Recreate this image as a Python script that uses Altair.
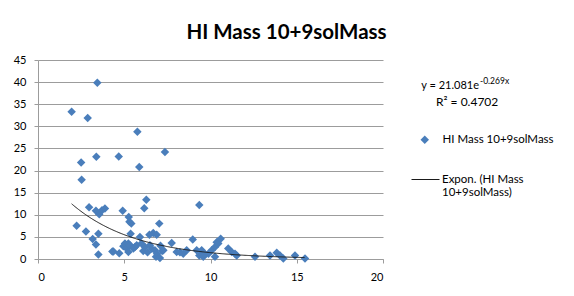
import altair as alt
import pandas as pd

# ---- data ----
x_vals = [1.95, 2.24, 2.5, 2.53, 2.78, 2.88, 2.96, 3.17, 3.36, 3.38,
          3.36, 3.44, 3.5, 3.5, 3.55, 3.71, 3.88, 4.31, 4.68, 4.71,
          4.91, 4.95, 5.04, 5.14, 5.24, 5.26, 5.3, 5.33, 5.37, 5.41,
          5.53, 5.62, 5.72, 5.76, 5.87, 5.91, 6.0, 6.1, 6.16, 6.2,
          6.28, 6.35, 6.46, 6.49, 6.6, 6.68, 6.78, 6.84, 6.88, 6.9,
          7.03, 7.07, 7.1, 7.2, 7.27, 7.36, 7.75, 8.04, 8.23, 8.42,
          8.62, 8.97, 9.2, 9.35, 9.35, 9.49, 9.58, 9.7, 9.88, 10.07,
          10.26, 10.26, 10.36, 10.45, 10.59, 11.03, 11.23, 11.42, 11.52, 12.58,
          13.45, 13.84, 14.03, 14.22, 14.9, 15.48, 5.24, 4.37]
y_vals = [33.3, 7.5, 21.8, 17.9, 6.2, 31.9, 11.7, 4.5, 3.3, 23.1,
          10.9, 39.85, 5.7, 1.0, 10.1, 11.0, 11.4, 1.7, 23.2, 1.3,
          10.9, 2.9, 3.5, 2.4, 3.5, 9.5, 8.4, 3.1, 5.7, 8.0,
          2.4, 2.7, 3.1, 28.75, 20.8, 5.0, 3.5, 1.8, 11.5, 2.7,
          13.4, 1.5, 5.5, 3.1, 2.3, 5.9, 2.0, 0.5, 5.5, 1.2,
          8.0, 0.2, 3.0, 1.8, 2.0, 24.2, 3.6, 1.6, 1.5, 1.2,
          2.0, 4.4, 2.0, 12.2, 0.8, 2.0, 0.5, 1.1, 1.2, 2.0,
          2.7, 0.5, 3.8, 3.5, 4.6, 2.4, 1.6, 1.2, 0.8, 0.5,
          0.8, 1.4, 0.8, 0.1, 0.8, 0.1, 1.6, 1.7]
series_name = "HI Mass 10+9solMass"
trend_name = "Expon. (HI Mass 10+9solMass)"
fit_a = 21.081
fit_b = -0.269
fit_r2 = 0.4702
x_ticks = [0, 5, 10, 15, 20]
y_ticks = [0, 5, 10, 15, 20, 25, 30, 35, 40, 45]

FONT = "Lato"
BLUE = "#4a7ebb"
GRID = "#9c9c9c"

pts = pd.DataFrame({"x": x_vals, "y": y_vals, "series": series_name})

x_enc = alt.X("x:Q", scale=alt.Scale(domain=[0, 20], nice=False),
              axis=alt.Axis(values=x_ticks, grid=False, title=None))
y_enc = alt.Y("y:Q", scale=alt.Scale(domain=[0, 45], nice=False),
              axis=alt.Axis(values=y_ticks, grid=True, title=None))

points = alt.Chart(pts).mark_point(
    shape="diamond", filled=True, size=72, opacity=1, strokeWidth=0
).encode(
    x=x_enc, y=y_enc,
    color=alt.Color("series:N", scale=alt.Scale(domain=[series_name], range=[BLUE]),
                    legend=alt.Legend(title=None, orient="none", legendX=381, legendY=74,
                                      symbolType="diamond", symbolSize=72,
                                      symbolStrokeWidth=0, labelOffset=12,
                                      labelFont=FONT, labelFontSize=11.5,
                                      labelColor="#000", padding=0))
)

trend = alt.Chart(alt.sequence(min(x_vals), max(x_vals) + 0.001, 0.05, as_="x")).transform_calculate(
    y=f"{fit_a} * exp({fit_b} * datum.x)",
    series=f"'{trend_name}'"
).mark_line(strokeWidth=1).encode(
    x=x_enc, y=y_enc,
    stroke=alt.Stroke("series:N", scale=alt.Scale(domain=[trend_name], range=["#1a1a1a"]),
                      legend=alt.Legend(title=None, orient="none", legendX=373, legendY=105,
                                        symbolType="stroke", symbolSize=784,
                                        symbolStrokeWidth=1, labelOffset=2,
                                        labelFont=FONT, labelFontSize=11.5, labelColor="#000",
                                        labelLimit=300, padding=0,
                                        labelExpr="[slice(datum.label,0,15), slice(datum.label,16)]"))
)

txt = pd.DataFrame({"main": [f"y = {fit_a}e"], "sup": [f"{fit_b}x"], "r2": [f"R\u00b2 = {fit_r2}"]})
eq_main = alt.Chart(txt).mark_text(align="right", baseline="alphabetic", font=FONT,
                                   fontSize=11, color="#000").encode(
    x=alt.value(441), y=alt.value(29), text="main:N")
eq_sup = alt.Chart(txt).mark_text(align="left", baseline="alphabetic", font=FONT,
                                  fontSize=8.5, color="#000").encode(
    x=alt.value(442), y=alt.value(24), text="sup:N")
eq_r2 = alt.Chart(txt).mark_text(align="left", baseline="alphabetic", font=FONT,
                                 fontSize=12, color="#000").encode(
    x=alt.value(398), y=alt.value(46), text="r2:N")

chart = alt.layer(points, trend, eq_main, eq_sup, eq_r2).properties(
    width=345, height=199,
    autosize=alt.AutoSizeParams(type="none"),
    padding={"left": 30, "top": 52, "right": 183, "bottom": 28},
    title=alt.Title(series_name, font=FONT, fontSize=20.5, fontWeight="bold",
                    color="#000", anchor="middle", dx=76, dy=7, offset=2, baseline="alphabetic"),
    background="white",
).resolve_legend(color="independent", stroke="independent").configure_view(
    stroke=None
).configure_axis(
    labelFont=FONT, labelFontSize=11, labelColor="#000",
    domainColor=GRID, tickColor=GRID, gridColor=GRID,
    tickSize=4, labelPadding=8, domainWidth=1, tickWidth=1, gridWidth=1
)

chart.save("out.html", embed_options={"renderer": "svg", "actions": False})
